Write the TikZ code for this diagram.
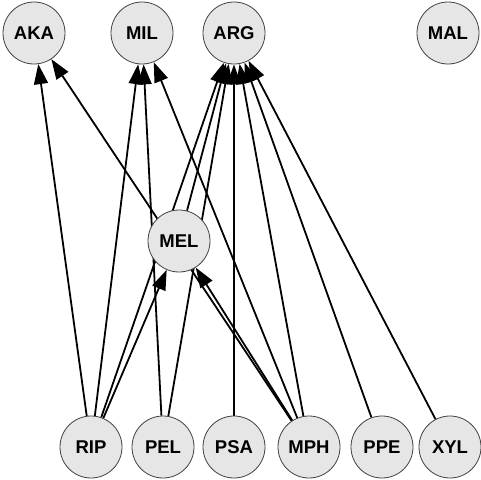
\documentclass[tikz,border=0pt]{standalone}
\usepackage{fontspec}
\setmainfont{Liberation Sans}
\usetikzlibrary{arrows.meta,backgrounds}
\definecolor{nodefill}{HTML}{E6E6E6}
\definecolor{nodeline}{HTML}{404040}
\begin{document}
\begin{tikzpicture}[x=1pt,y=-1pt,
  vert/.style={circle,draw=nodeline,line width=0.8pt,fill=nodefill,
    minimum size=62pt,inner sep=0pt,font=\fontsize{18.5}{20}\selectfont\bfseries},
  dep/.style={line width=1.8pt,-{Triangle[length=20pt,width=14pt]}}]
\useasboundingbox (0,0) rectangle (481,479);
% top row
\node[vert] (AKA) at (34,33) {AKA};
\node[vert] (MIL) at (142,33) {MIL};
\node[vert] (ARG) at (234,33) {ARG};
\node[vert] (MAL) at (448,33) {MAL};
% middle
\node[vert] (MEL) at (179,241) {MEL};
% bottom row
\node[vert] (RIP) at (91,447) {RIP};
\node[vert] (PEL) at (163,447) {PEL};
\node[vert] (PSA) at (234,447) {PSA};
\node[vert] (MPH) at (309,447) {MPH};
\node[vert] (PPE) at (382,447) {PPE};
\node[vert] (XYL) at (450,447) {XYL};
% edges, drawn behind the nodes
\begin{scope}[on background layer]
\draw[dep] (RIP) -- (AKA);
\draw[dep] (MPH) -- (AKA);
\draw[dep] (RIP) -- (MIL);
\draw[dep] (PEL) -- (MIL);
\draw[dep] (MPH) -- (MIL);
\draw[dep] (RIP) -- (ARG);
\draw[dep] (MEL) -- (ARG);
\draw[dep] (PEL) -- (ARG);
\draw[dep] (PSA) -- (ARG);
\draw[dep] (MPH) -- (ARG);
\draw[dep] (PPE) -- (ARG);
\draw[dep] (XYL) -- (ARG);
\draw[dep] (RIP) -- (MEL);
\draw[dep] (MPH) -- (MEL);
\end{scope}
\end{tikzpicture}
\end{document}
